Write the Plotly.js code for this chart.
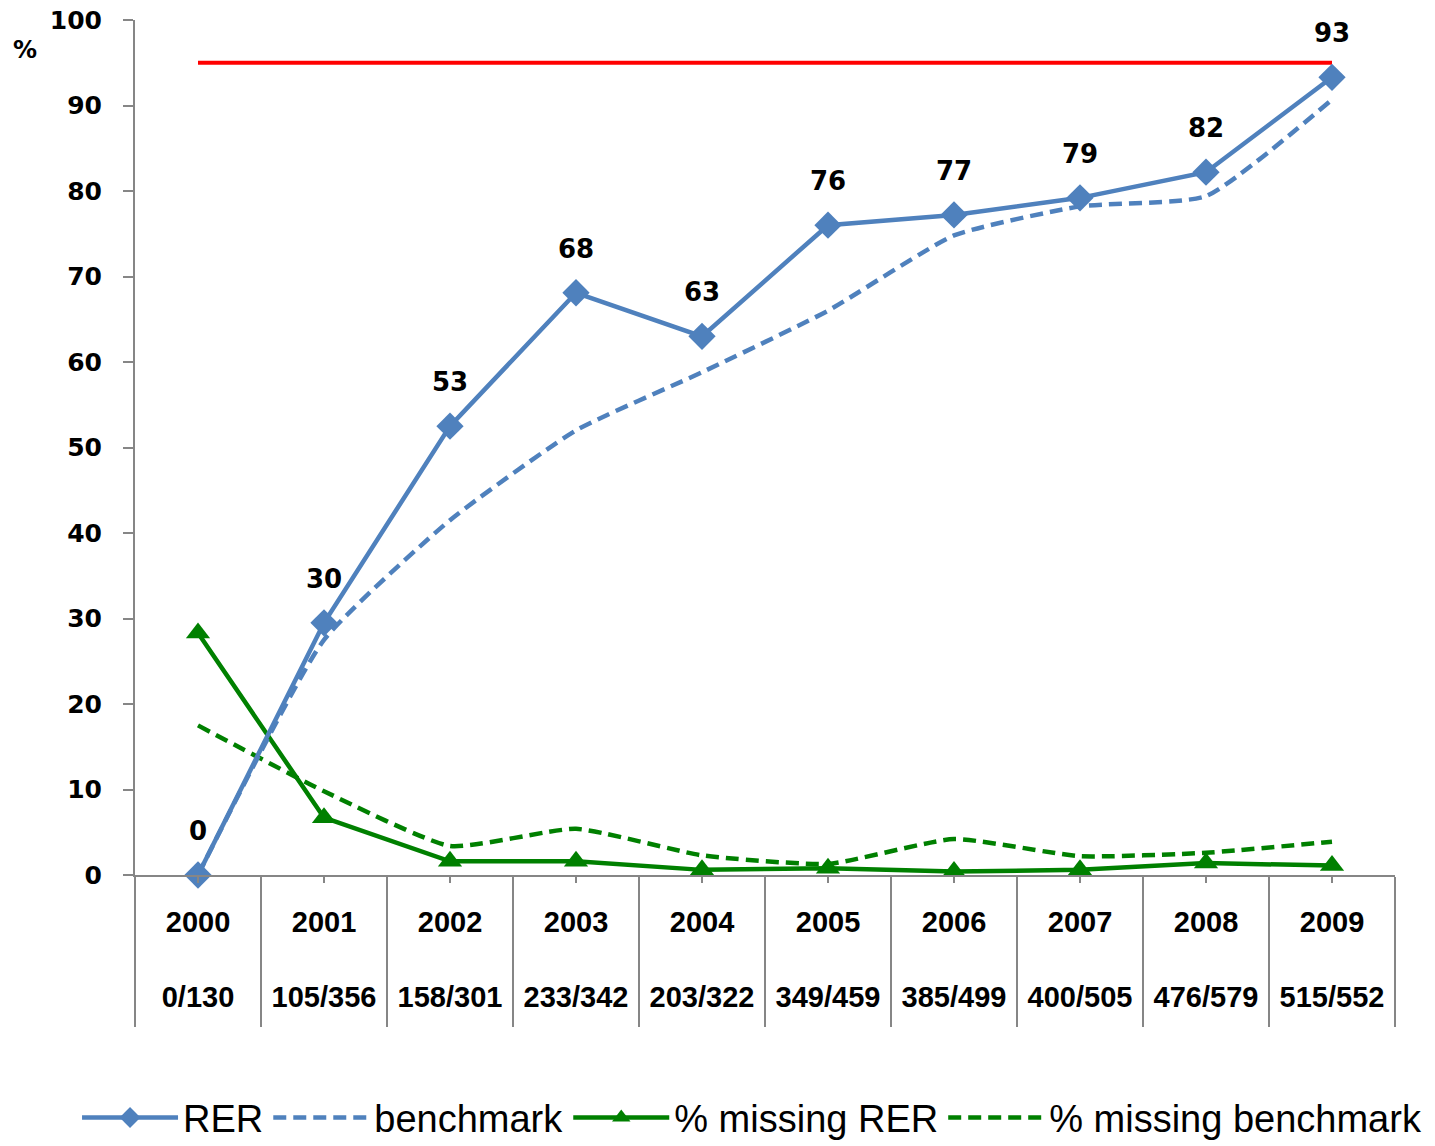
<!DOCTYPE html>
<html>
<head>
<meta charset="utf-8">
<script src="https://cdn.plot.ly/plotly-3.0.1.min.js"></script>
<style>
  html, body { margin: 0; padding: 0; background: #ffffff; }
  #chart { width: 1435px; height: 1146px; }
</style>
</head>
<body>
<div id="chart"></div>
<script>
// ---- data ----
const years = ["2000", "2001", "2002", "2003", "2004", "2005", "2006", "2007", "2008", "2009"];
const counts = ["0/130", "105/356", "158/301", "233/342", "203/322", "349/459", "385/499", "400/505", "476/579", "515/552"];
const rer = [0, 29.5, 52.5, 68.1, 63.0, 76.0, 77.2, 79.2, 82.2, 93.3];
const rerLabels = ["0", "30", "53", "68", "63", "76", "77", "79", "82", "93"];
const benchmark = [0, 27.5, 41.5, 52.0, 58.8, 66.0, 74.8, 78.2, 79.4, 90.7];
const missingRer = [28.3, 6.7, 1.6, 1.6, 0.6, 0.8, 0.4, 0.6, 1.4, 1.1];
const missingBenchmark = [17.5, 9.8, 3.4, 5.4, 2.3, 1.3, 4.2, 2.2, 2.6, 3.9];
const target = [95, 95, 95, 95, 95, 95, 95, 95, 95, 95];

// ---- styling ----
const BLUE = "#4F81BD";
const GREEN = "#008000";
const RED = "#FF0000";
const AXIS = "#868686";

const xIdx = years.map((_, i) => i);
const boundaries = years.map((_, i) => i - 0.5).concat([years.length - 0.5]);

const traces = [
  {
    x: xIdx, y: target, mode: "lines", showlegend: false, hoverinfo: "skip",
    line: { color: RED, width: 4 }
  },
  {
    x: xIdx, y: missingBenchmark, mode: "lines", name: "% missing benchmark",
    line: { color: GREEN, width: 4.5, dash: "13px,7px", shape: "spline", smoothing: 0.5 },
    legendrank: 4
  },
  {
    x: xIdx, y: missingRer, mode: "lines+markers", name: "% missing RER",
    line: { color: GREEN, width: 4.5 },
    marker: { symbol: "triangle-up", size: 21, color: GREEN },
    cliponaxis: false, legendrank: 3
  },
  {
    x: xIdx, y: benchmark, mode: "lines", name: "benchmark",
    line: { color: BLUE, width: 4.5, dash: "13px,7px", shape: "spline", smoothing: 0.5 },
    legendrank: 2
  },
  {
    x: xIdx, y: rer, mode: "lines+markers", name: "RER",
    line: { color: BLUE, width: 4.5 },
    marker: { symbol: "diamond", size: 21, color: BLUE },
    cliponaxis: false, legendrank: 1
  }
];

const annotations = rer.map((v, i) => ({
  x: i, y: v, xref: "x", yref: "y",
  text: rerLabels[i], showarrow: false,
  yanchor: "middle", xanchor: "center", yshift: 44,
  font: { family: "DejaVu Sans", size: 26, weight: "bold", color: "#000000" }
}));
annotations.push({
  x: -0.087, y: 0.965, xref: "paper", yref: "paper",
  text: "%", showarrow: false, xanchor: "center", yanchor: "middle",
  font: { family: "DejaVu Sans", size: 24, weight: "bold", color: "#000000" }
});

const layout = {
  width: 1435, height: 1146,
  margin: { l: 135, r: 40, t: 20, b: 271, autoexpand: false },
  paper_bgcolor: "#ffffff", plot_bgcolor: "#ffffff",
  showlegend: true,
  legend: {
    orientation: "h", x: -0.046, xanchor: "left", y: -0.284, yanchor: "middle",
    font: { family: "Liberation Sans", size: 38, color: "#000000" },
    itemwidth: 96, traceorder: "normal", bgcolor: "rgba(0,0,0,0)"
  },
  xaxis: {
    range: [-0.5, 9.5],
    tickmode: "array", tickvals: xIdx,
    ticktext: years.map((y, i) => y + "<br><br>" + counts[i]),
    ticks: "outside", ticklen: 6, tickwidth: 2, tickcolor: AXIS,
    ticklabelstandoff: 14,
    showline: true, linecolor: AXIS, linewidth: 2,
    showgrid: false, zeroline: false,
    tickfont: { family: "Liberation Sans", size: 29, weight: "bold", color: "#000000" },
    minor: { tickmode: "array", tickvals: boundaries, ticks: "outside", ticklen: 150, tickwidth: 2, tickcolor: AXIS, showgrid: false }
  },
  yaxis: {
    range: [0, 100], dtick: 10, tick0: 0,
    ticks: "outside", ticklen: 10, tickwidth: 2, tickcolor: AXIS,
    ticklabelstandoff: 16,
    showline: true, linecolor: AXIS, linewidth: 2,
    showgrid: false, zeroline: false,
    tickfont: { family: "DejaVu Sans", size: 25, weight: "bold", color: "#000000" }
  },
  annotations: annotations
};

Plotly.newPlot("chart", traces, layout, { displayModeBar: false, staticPlot: true });
</script>
</body>
</html>
